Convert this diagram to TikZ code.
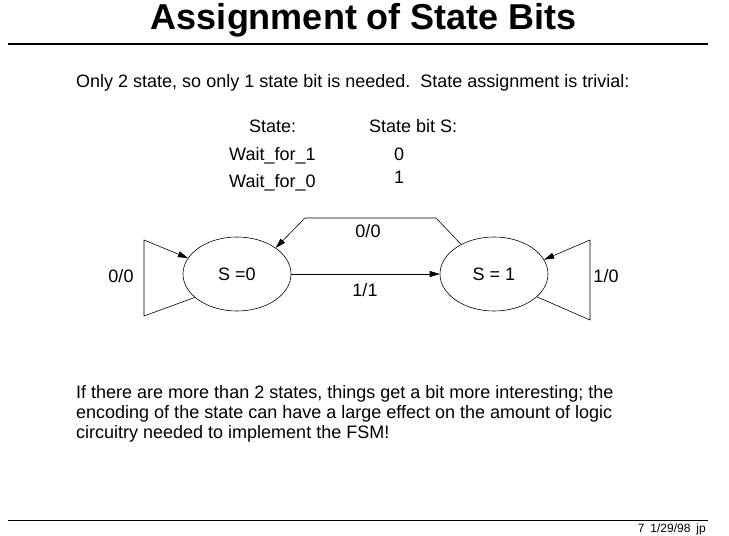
\documentclass[tikz,border=0pt]{standalone}
\usepackage{fontspec}
\setmainfont{Liberation Sans}
\usetikzlibrary{arrows.meta, positioning, shapes.geometric}

\begin{document}
\begin{tikzpicture}[x=1pt, y=-1pt,
  state/.style={draw, ellipse, line width=0.6pt, minimum width=108pt, minimum height=74pt, inner sep=0pt, font=\fontsize{18}{21}\selectfont},
  txt/.style={font=\fontsize{18}{21}\selectfont, inner sep=0pt},
  edge/.style={line width=0.6pt, -{Triangle[length=10pt, width=6pt]}}]
  \useasboundingbox (0, 0) rectangle (729, 536);

  % Title and rules
  \node[anchor=base, inner sep=0pt, font=\fontsize{36}{40}\selectfont\bfseries] (title) at (364, 29) {Assignment of State Bits};
  \draw[line width=1.5pt] (8, 44) -- (708, 44);
  \draw[line width=0.8pt] (8, 520) -- (708, 520);
  \node[anchor=base east, inner sep=0pt, font=\fontsize{12}{14}\selectfont] (foot) at (706, 532) {7\enspace 1/29/98\enspace jp};

  % Text above
  \node[txt, anchor=base west] (intro) at (76, 87) {Only 2 state, so only 1 state bit is needed.\ \ State assignment is trivial:};
  \node[txt, anchor=base west] (hstate) at (249, 132) {State:};
  \node[txt, anchor=base west] (hbit) at (369, 132) {State bit S:};
  \node[txt, anchor=base west] (w1) at (229, 160) {Wait\_for\_1};
  \node[txt, anchor=base west] (w0) at (229, 187) {Wait\_for\_0};
  \node[txt, anchor=base west] (b0) at (394, 160) {0};
  \node[txt, anchor=base west] (b1) at (394, 183) {1};

  % States
  \node[state] (s0) at (237, 274) {S =0};
  \node[state] (s1) at (494, 274) {S = 1};

  % Transitions
  \draw[edge] (s0.east) -- (s1.west);
  \node[txt] (l11) at (365, 290) {1/1};
  \coordinate (tr) at (436, 218);
  \coordinate (tl) at (305, 218);
  \draw[edge] (s1.138) -- (tr) -- (tl) -- (s0.34);
  \node[txt] (l00t) at (368, 231) {0/0};

  % Self loops
  \coordinate (lt) at (144, 240);
  \coordinate (lb) at (144, 316);
  \draw[edge] (s0.209) -- (lb) -- (lt) -- (s0.162);
  \node[txt] (l00) at (121, 276) {0/0};
  \coordinate (rt) at (590, 240);
  \coordinate (rb) at (590, 320);
  \draw[edge] (s1.332) -- (rb) -- (rt) -- (s1.16);
  \node[txt] (l10) at (606, 276) {1/0};

  % Text below
  \node[txt, anchor=base west] (p1) at (76, 398) {If there are more than 2 states, things get a bit more interesting; the};
  \node[txt, anchor=base west] (p2) at (76, 418) {encoding of the state can have a large effect on the amount of logic};
  \node[txt, anchor=base west] (p3) at (76, 438) {circuitry needed to implement the FSM!};
\end{tikzpicture}
\end{document}
